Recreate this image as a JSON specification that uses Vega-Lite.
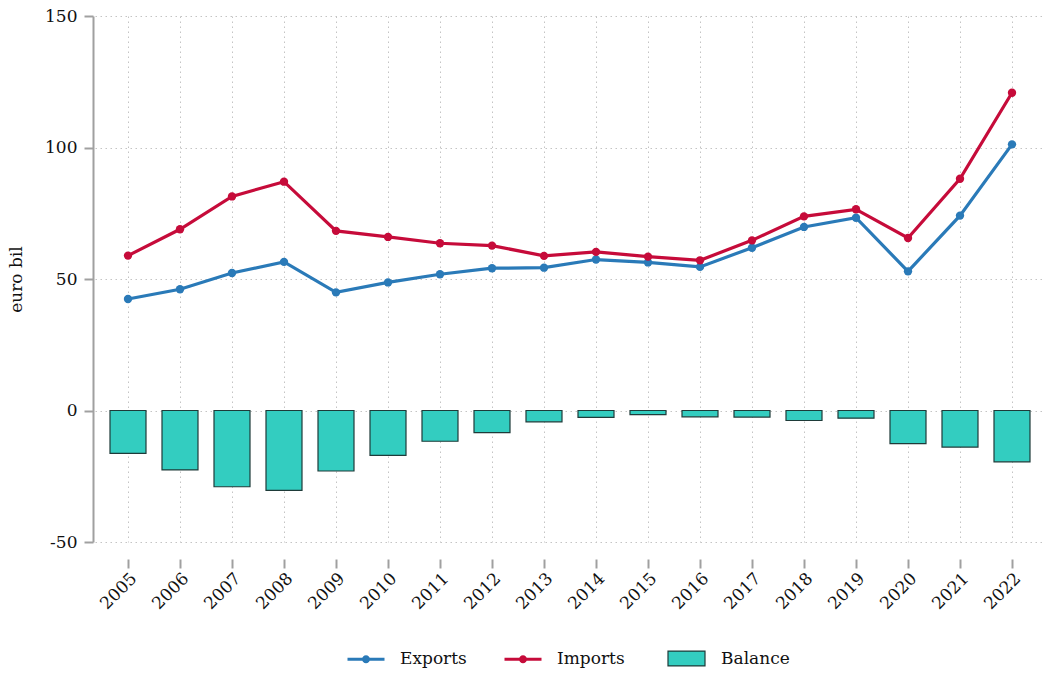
{
  "$schema": "https://vega.github.io/schema/vega-lite/v6.json",
  "width": 947,
  "height": 526,
  "autosize": {"type": "none"},
  "padding": {"left": 95, "top": 16, "right": 0, "bottom": 133},
  "background": "white",
  "config": {
    "view": {"stroke": null},
    "font": "DejaVu Serif",
    "axis": {
      "domainColor": "#a0a0a0",
      "domainWidth": 2,
      "tickColor": "#a0a0a0",
      "tickWidth": 2,
      "tickSize": 9,
      "labelFont": "DejaVu Serif",
      "labelFontSize": 17,
      "labelColor": "#111111",
      "titleFont": "DejaVu Serif",
      "titleFontSize": 17,
      "titleFontWeight": "normal",
      "titleColor": "#111111",
      "gridColor": "#c4c4c4",
      "gridDash": [1.5, 3.5],
      "gridWidth": 1
    },
    "legend": {
      "labelFont": "DejaVu Serif",
      "labelFontSize": 17,
      "labelColor": "#111111"
    }
  },
  "data": {
    "values": [
      {"year": 2005, "series": "Exports", "value": 42.4},
      {"year": 2006, "series": "Exports", "value": 46.1},
      {"year": 2007, "series": "Exports", "value": 52.3},
      {"year": 2008, "series": "Exports", "value": 56.5},
      {"year": 2009, "series": "Exports", "value": 44.9},
      {"year": 2010, "series": "Exports", "value": 48.7},
      {"year": 2011, "series": "Exports", "value": 51.8},
      {"year": 2012, "series": "Exports", "value": 54.1},
      {"year": 2013, "series": "Exports", "value": 54.3},
      {"year": 2014, "series": "Exports", "value": 57.4},
      {"year": 2015, "series": "Exports", "value": 56.3},
      {"year": 2016, "series": "Exports", "value": 54.6},
      {"year": 2017, "series": "Exports", "value": 61.9},
      {"year": 2018, "series": "Exports", "value": 69.8},
      {"year": 2019, "series": "Exports", "value": 73.3},
      {"year": 2020, "series": "Exports", "value": 52.9},
      {"year": 2021, "series": "Exports", "value": 74.1},
      {"year": 2022, "series": "Exports", "value": 101.2},
      {"year": 2005, "series": "Imports", "value": 58.9},
      {"year": 2006, "series": "Imports", "value": 68.9},
      {"year": 2007, "series": "Imports", "value": 81.4},
      {"year": 2008, "series": "Imports", "value": 87.0},
      {"year": 2009, "series": "Imports", "value": 68.3},
      {"year": 2010, "series": "Imports", "value": 66.0},
      {"year": 2011, "series": "Imports", "value": 63.6},
      {"year": 2012, "series": "Imports", "value": 62.7},
      {"year": 2013, "series": "Imports", "value": 58.8},
      {"year": 2014, "series": "Imports", "value": 60.3},
      {"year": 2015, "series": "Imports", "value": 58.5},
      {"year": 2016, "series": "Imports", "value": 57.1},
      {"year": 2017, "series": "Imports", "value": 64.7},
      {"year": 2018, "series": "Imports", "value": 73.8},
      {"year": 2019, "series": "Imports", "value": 76.5},
      {"year": 2020, "series": "Imports", "value": 65.6},
      {"year": 2021, "series": "Imports", "value": 88.1},
      {"year": 2022, "series": "Imports", "value": 120.8},
      {"year": 2005, "series": "Balance", "value": -16.3},
      {"year": 2006, "series": "Balance", "value": -22.6},
      {"year": 2007, "series": "Balance", "value": -29.0},
      {"year": 2008, "series": "Balance", "value": -30.4},
      {"year": 2009, "series": "Balance", "value": -23.0},
      {"year": 2010, "series": "Balance", "value": -17.1},
      {"year": 2011, "series": "Balance", "value": -11.7},
      {"year": 2012, "series": "Balance", "value": -8.4},
      {"year": 2013, "series": "Balance", "value": -4.3},
      {"year": 2014, "series": "Balance", "value": -2.6},
      {"year": 2015, "series": "Balance", "value": -1.6},
      {"year": 2016, "series": "Balance", "value": -2.4},
      {"year": 2017, "series": "Balance", "value": -2.5},
      {"year": 2018, "series": "Balance", "value": -3.8},
      {"year": 2019, "series": "Balance", "value": -2.9},
      {"year": 2020, "series": "Balance", "value": -12.6},
      {"year": 2021, "series": "Balance", "value": -13.9},
      {"year": 2022, "series": "Balance", "value": -19.5}
    ]
  },
  "encoding": {
    "x": {
      "field": "year",
      "type": "quantitative",
      "scale": {"domain": [2004.3654, 2022.5769], "nice": false, "zero": false, "padding": 0},
      "axis": {
        "values": [2005, 2006, 2007, 2008, 2009, 2010, 2011, 2012, 2013, 2014, 2015, 2016, 2017, 2018, 2019, 2020, 2021, 2022],
        "format": "d",
        "labelAngle": -45,
        "labelPadding": 2,
        "offset": 17,
        "domain": false,
        "grid": true,
        "title": null
      }
    },
    "y": {
      "field": "value",
      "type": "quantitative",
      "scale": {"domain": [-50, 150], "nice": false, "padding": 0},
      "axis": {
        "values": [-50, 0, 50, 100, 150],
        "labelExpr": "'' + datum.value",
        "labelPadding": 7,
        "offset": 2,
        "grid": true,
        "title": "euro bil",
        "titleX": -77,
        "titleY": 263,
        "titleAngle": -90,
        "titleAlign": "center",
        "titleBaseline": "middle"
      }
    }
  },
  "layer": [
    {
      "data": {"values": [{}]},
      "mark": {"type": "rule", "color": "#a0a0a0", "strokeWidth": 2},
      "encoding": {
        "x": {"datum": 2005, "type": "quantitative"},
        "x2": {"datum": 2022},
        "y": {"datum": -56.46, "type": "quantitative"}
      }
    },
    {
      "transform": [{"filter": "datum.series === 'Balance'"}],
      "mark": {"type": "bar", "size": 36, "stroke": "#1e3b39", "strokeWidth": 1.2},
      "encoding": {
        "fill": {
          "field": "series",
          "type": "nominal",
          "scale": {"domain": ["Balance"], "range": ["#33cdc0"]},
          "legend": {
            "title": null,
            "orient": "none",
            "legendX": 572,
            "legendY": 623,
            "direction": "horizontal",
            "symbolType": "M-1,-0.4H1V0.4H-1Z",
            "symbolSize": 1369,
            "symbolStrokeColor": "#1e3b39",
            "symbolStrokeWidth": 1.2,
            "symbolOpacity": 1,
            "labelOffset": 15
          }
        }
      }
    },
    {
      "transform": [{"filter": "datum.series !== 'Balance'"}],
      "mark": {"type": "line", "strokeWidth": 3.2, "point": {"size": 70, "filled": true}},
      "encoding": {
        "color": {
          "field": "series",
          "type": "nominal",
          "scale": {"domain": ["Exports", "Imports"], "range": ["#2a7ab8", "#c60b3a"]},
          "legend": {
            "title": null,
            "orient": "none",
            "legendX": 251,
            "legendY": 623,
            "direction": "horizontal",
            "symbolType": "M-1,0H1M-0.135,0a0.135,0.135 0 1,0 0.27,0a0.135,0.135 0 1,0 -0.27,0M-0.055,0a0.055,0.055 0 1,0 0.11,0a0.055,0.055 0 1,0 -0.11,0",
            "symbolSize": 1369,
            "symbolStrokeWidth": 3,
            "symbolOpacity": 1,
            "labelOffset": 14,
            "columnPadding": 31
          }
        }
      }
    }
  ]
}
